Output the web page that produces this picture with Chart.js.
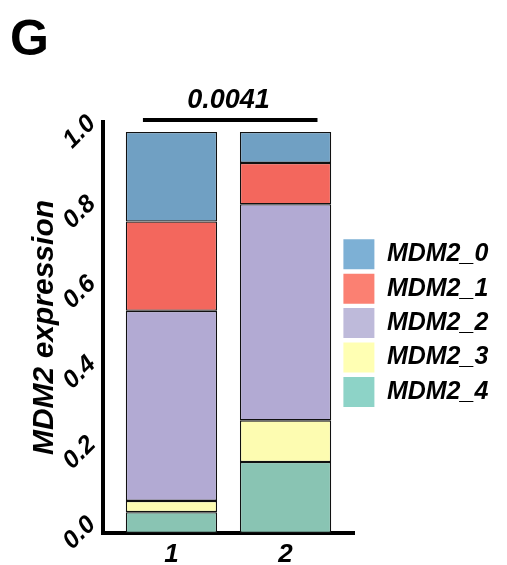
<!DOCTYPE html>
<html>
<head>
<meta charset="utf-8">
<script src="https://cdn.jsdelivr.net/npm/chart.js@4.4.1/dist/chart.umd.min.js"></script>
<style>
  html, body { margin: 0; padding: 0; background: #ffffff; }
  #wrap { width: 507px; height: 565px; position: relative; }
</style>
</head>
<body>
<div id="wrap"><canvas id="c" width="507" height="565"></canvas></div>
<script>
// ---- data ----
const categories = ['1', '2'];
const seriesNames = ['MDM2_0', 'MDM2_1', 'MDM2_2', 'MDM2_3', 'MDM2_4'];
const MDM2_0 = [0.223, 0.077];
const MDM2_1 = [0.223, 0.103];
const MDM2_2 = [0.474, 0.539];
const MDM2_3 = [0.028, 0.104];
const MDM2_4 = [0.052, 0.177];
const yTicks = [0.0, 0.2, 0.4, 0.6, 0.8, 1.0];
const pValue = '0.0041';
const bracketX = [0.75, 2.28];
const bracketY = 1.03;

// ---- styles ----
const barColors = ['#70A0C3', '#F3675D', '#B2AAD3', '#FDFCB1', '#89C4B3'];
const legendColors = ['#7DB0D5', '#FB8072', '#BEBADA', '#FFFFB3', '#8DD3C7'];
const FONT = "'Liberation Sans', Arial, sans-serif";

// stacked bottom -> top
const stackOrder = [4, 3, 2, 1, 0];
const seriesByName = { MDM2_0, MDM2_1, MDM2_2, MDM2_3, MDM2_4 };

const datasets = stackOrder.map((si) => ({
  label: seriesNames[si],
  data: seriesByName[seriesNames[si]].map((v, i) => ({ x: i + 1, y: v })),
  backgroundColor: barColors[si],
  borderColor: '#111111',
  borderWidth: 1.3,
  borderSkipped: false,
  categoryPercentage: 0.8,
  barPercentage: 1.0
}));

const layoutPlugin = {
  id: 'layoutTweaks',
  afterLayout(chart) {
    const lg = chart.legend;
    const ca = chart.chartArea;
    if (lg) {
      lg.left = 339;
      lg.right = 507;
      lg.width = lg.right - lg.left;
      lg.top = ca.top - 4.4;
      lg.bottom = ca.bottom - 4.4;
      lg.height = lg.bottom - lg.top;
    }
  },
  afterDraw(chart) {
    const xs = chart.scales.x, ys = chart.scales.y;
    const ctx = chart.ctx;
    ctx.save();
    ctx.strokeStyle = '#000';
    ctx.lineWidth = 4;
    ctx.beginPath();
    const yy = ys.getPixelForValue(bracketY);
    ctx.moveTo(xs.getPixelForValue(bracketX[0]), yy);
    ctx.lineTo(xs.getPixelForValue(bracketX[1]), yy);
    ctx.stroke();
    ctx.restore();
  }
};

new Chart(document.getElementById('c'), {
  type: 'bar',
  data: { datasets },
  plugins: [layoutPlugin],
  options: {
    responsive: false,
    animation: false,
    devicePixelRatio: 1,
    layout: { padding: { left: 10, right: 153, top: 0, bottom: 0 } },
    plugins: {
      title: {
        display: true,
        text: 'G',
        align: 'start',
        color: '#000',
        font: { family: FONT, size: 50, weight: 'bold' },
        padding: { top: 11, bottom: 0 }
      },
      subtitle: {
        display: true,
        text: pValue,
        fullSize: false,
        align: 'center',
        color: '#000',
        font: { family: FONT, size: 27, weight: 'bold', style: 'italic' },
        padding: { top: 13.6, bottom: 5 }
      },
      legend: {
        display: true,
        position: 'chartArea',
        align: 'center',
        labels: {
          boxWidth: 31,
          boxHeight: 30,
          padding: 4.4,
          color: '#000',
          font: { family: FONT, size: 25, weight: 'bold', style: 'italic' },
          generateLabels(chart) {
            return seriesNames.map((name, si) => ({
              text: name,
              fillStyle: legendColors[si],
              strokeStyle: legendColors[si],
              lineWidth: 0,
              hidden: false,
              datasetIndex: stackOrder.indexOf(si)
            }));
          }
        }
      },
      tooltip: { enabled: false }
    },
    scales: {
      x: {
        type: 'linear',
        offset: false,
        stacked: true,
        min: 0.4,
        max: 2.6,
        grid: { display: false, drawTicks: false },
        border: { display: true, color: '#000', width: 4 },
        afterBuildTicks(scale) { scale.ticks = categories.map((c, i) => ({ value: i + 1 })); },
        afterFit(scale) { scale.height = 32; },
        ticks: {
          padding: 6,
          color: '#000',
          font: { family: FONT, size: 26, weight: 'bold', style: 'italic' },
          callback: (v) => categories[Math.round(v) - 1] || ''
        }
      },
      y: {
        type: 'linear',
        stacked: true,
        min: 0,
        max: 1.025,
        grid: { display: false, drawTicks: false },
        border: { display: true, color: '#000', width: 4 },
        afterBuildTicks(scale) { scale.ticks = yTicks.map(v => ({ value: v })); },
        afterFit(scale) { scale.width = 93; },
        ticks: {
          padding: 6,
          minRotation: 45,
          maxRotation: 45,
          crossAlign: 'center',
          color: '#000',
          font: { family: FONT, size: 25, weight: 'bold', style: 'italic' },
          callback: (v) => Number(v).toFixed(1)
        },
        title: {
          display: true,
          text: 'MDM2 expression',
          color: '#000',
          font: { family: FONT, size: 30, weight: 'bold', style: 'italic' },
          padding: { top: 17, bottom: 0 }
        }
      }
    }
  }
});
</script>
</body>
</html>
